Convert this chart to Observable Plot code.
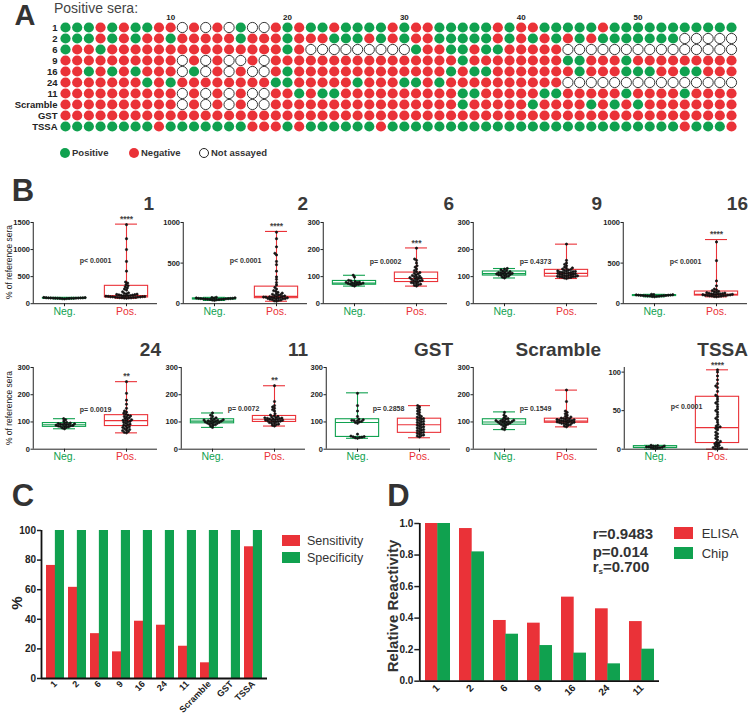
<!DOCTYPE html>
<html><head><meta charset="utf-8">
<script src="https://cdn.jsdelivr.net/npm/d3@7"></script>
<script src="https://cdn.jsdelivr.net/npm/@observablehq/plot@0.6"></script>
<style>
body{margin:0;background:#fff;}
#fig{position:relative;width:748px;height:722px;overflow:hidden;background:#fff;font-family:"Liberation Sans",Arial,Helvetica,sans-serif;color:#333;}
#fig svg{display:block;position:absolute;}
.t{position:absolute;white-space:nowrap;line-height:1;font-family:"Liberation Sans",Arial,Helvetica,sans-serif;}
</style></head><body><div id="fig"></div>
<script>
// ---------------- DATA ----------------
// Panel A
const sampleRows = ["1","2","6","9","16","24","11","Scramble","GST","TSSA"];
const colTicks = [10,20,30,40,50];
// G = positive, R = negative, O = not assayed (sera 1..58)
const statusRows = [
  "GGGRGRGGRR OROROGOORG RGGRGGGGRG RRGGGGGRGR RGGGGGRGGG GGGGGGGG",
  "GGGRGRGRRG RRRRRGRRRG RRRGGGRGRG RRGGGGGRGR GRGRGRGGGG GGGOOOOO",
  "GRRGRRRRRR RRRRRRRRRG ROOOOOOOOO GRRGGRGGRR RRROOOOOOO OOOOOOOO",
  "RRRRRRRRRR OROROORORR RRRRRRRRRR RRRRGRRRRR RRRGGRRRGR RRRRRRRR",
  "RRGRGRGRRR OGOROROORG RRRRRRRRRR RRRGRGGRRR RRRRGRRRGG GRRGGRRR",
  "RRRRRRRGRG RRRRRRRRGG RRRRRGRRRG GRGRRRRRRR RRROOOOOOO OOOOOOOO",
  "RRRRRRRRRR OROROROORR GRGGRRRRRR RRRRGGRRRR RGGRRRRRGR RRRGRRRR",
  "RRRRRRRRRR OROROROORR RRRRRRRRRR RRRRGRRRRR GRRRRGRGRG RRRRRRRR",
  "RRRRRRRRRR RRRRRRRRRR RRRRRRRRRR RRRRRRRRRR RRRRRRRRRR RRRRRRRR",
  "GGGGGGGGRG GGGGGGRRRG RGGGGGGRGG GGGGGGGGGG GGGGGGGGGG GGGRGGGR"
];
const legendA = ["Positive","Negative","Not assayed"];

// Panel B
const bTitles = ["1","2","6","9","16","24","11","GST","Scramble","TSSA"];
const bYMax = [1500,1000,300,300,1000,300,300,300,300,106];
const bYTicks = [[0,500,1000,1500],[0,500,1000],[0,100,200,300],[0,100,200,300],[0,500,1000],
                 [0,100,200,300],[0,100,200,300],[0,100,200,300],[0,100,200,300],[0,50,100]];
const bPText = ["p< 0.0001","p< 0.0001","p= 0.0002","p= 0.4373","p< 0.0001","p= 0.0019","p= 0.0072","p= 0.2858","p= 0.1549","p< 0.0001"];
const bStars = ["****","****","***","","****","**","**","","","****"];
const groupsB = ["Neg.","Pos."];
const negValues = [
 [88,92,95,96,98,99,100,100,101,102,103,104,105,106,107,108,110,112,115],
 [40,45,48,50,52,54,55,56,58,60,60,62,63,64,65,66,68,70,72,75,78],
 [65,68,70,71,72,73,74,75,76,77,78,79,80,82,84,86,98,105],
 [95,98,100,102,104,105,106,108,109,110,111,112,113,114,115,116,118,120,122,125,128,130],
 [85,88,90,92,94,95,96,98,99,100,101,102,104,105,106,108,110,112,115],
 [75,78,80,82,83,84,85,86,87,88,89,90,91,92,93,94,95,96,98,103,108,112],
 [80,85,88,90,92,94,95,96,98,99,100,101,102,103,104,105,106,107,108,110,112,115,120,125,133],
 [40,42,43,44,45,46,48,55,95,98,100,102,104,105,106,108,110,120,140,160,205],
 [72,75,80,85,88,90,92,94,95,96,98,99,100,101,102,103,104,105,106,108,110,112,115,120,125,135],
 [0.5,1,1.5,2,2,2.5,3,3,3.5,4,4,4.5,5]
];
const posValues = [
 [100,103,106,108,110,112,114,116,118,120,122,124,126,128,130,132,135,138,140,143,146,150,154,158,162,166,170,175,180,190,200,220,250,270,290,310,330,350,380,400,600,780,1000,1200,1460],
 [30,35,40,45,50,55,58,60,62,65,68,70,72,75,78,80,82,85,88,90,95,100,105,110,115,120,130,140,150,160,180,200,230,260,300,330,400,480,520,600,620,700,800,880],
 [65,68,70,72,74,76,78,80,82,84,85,86,88,90,92,94,95,96,98,100,102,104,106,110,112,115,118,122,128,135,140,150,160,165,205],
 [93,95,96,97,98,99,100,100,101,102,103,104,105,106,107,108,109,110,111,112,113,114,115,116,117,118,119,120,121,122,124,126,128,130,132,135,140,145,150,160,220],
 [85,88,90,92,94,96,98,100,102,104,106,108,110,112,114,116,118,120,122,125,128,130,135,140,145,150,160,170,180,220,280,530,760],
 [60,62,65,68,70,72,75,78,80,82,85,88,90,92,95,98,100,102,104,106,108,110,112,115,118,120,122,125,128,132,136,140,150,165,180,205,248],
 [85,88,90,92,94,96,98,100,101,102,103,104,105,106,107,108,109,110,111,112,113,114,115,116,118,120,122,125,130,140,145,150,155,160,175,233],
 [45,48,50,52,55,58,60,62,65,68,70,72,75,78,80,82,85,88,90,92,95,98,100,102,105,108,110,112,115,118,120,125,130,135,140,145,150,155,160],
 [82,85,88,90,92,94,95,96,97,98,99,100,101,102,103,104,105,106,107,108,109,110,111,112,114,116,118,120,125,130,135,140,175,217],
 [0,0.5,1,1.5,2,3,4,5,6,7,8,9,10,12,14,16,18,20,22,25,27,28,29,30,32,35,38,40,42,45,48,50,52,55,58,60,62,65,68,70,75,80,82,85,90,95,100,103]
];
// [min, q1, median, q3, max]
const negBox = [[88,96,102,107,115],[40,52,60,66,78],[65,70,76,84,105],[95,104,111,119,130],[85,94,100,106,115],
                [75,82,90,96,112],[80,95,103,110,133],[40,45,98,110,207],[72,90,100,110,137],[0,1.5,2.5,4,5]];
const posBox = [[100,115,150,330,1470],[30,68,90,210,890],[65,80,93,115,206],[93,100,112,125,220],[85,100,115,150,790],
                [60,85,105,125,248],[85,100,110,122,233],[42,60,90,112,160],[82,97,103,112,217],[0,8,28,68,103]];

// Panel C
const cCats = ["1","2","6","9","16","24","11","Scramble","GST","TSSA"];
const sensitivity = [76.4,61.6,30.3,18,38.7,36,21.8,10.6,0,89];
const specificity = [100,100,100,100,100,100,100,100,100,100];
const cSeries = ["Sensitivity","Specificity"];

// Panel D
const dCats = ["1","2","6","9","16","24","11"];
const elisa = [1.0,0.968,0.385,0.368,0.533,0.459,0.378];
const chip = [1.0,0.82,0.298,0.226,0.178,0.11,0.203];
const dSeries = ["ELISA","Chip"];
const dStats = ["r=0.9483","p=0.014","r<sub style='font-size:8px;vertical-align:-2px'>s</sub>=0.700"];

// ---------------- LAYOUT ----------------
const F = '"Liberation Sans", Arial, Helvetica, sans-serif';
const GREEN = "#10a14f";
const RED = "#ea3238";
const fig = document.getElementById("fig");
const plain = d => String(d);

function put(svg, left, top) { svg.style.left = left + "px"; svg.style.top = top + "px"; fig.appendChild(svg); }
function txt(html, x, y, o) {
  const d = document.createElement("div");
  d.className = "t";
  d.innerHTML = html;
  const ax = o.anchor === "middle" ? -50 : o.anchor === "end" ? -100 : 0;
  Object.assign(d.style, {left: x + "px", top: y + "px", fontSize: o.size + "px", fontWeight: o.weight || "normal",
    color: o.color || "#333", lineHeight: o.lh || "1",
    transform: `translate(${ax}%,-50%)` + (o.rotate ? ` rotate(${o.rotate}deg)` : "")});
  fig.appendChild(d);
}
function box(left, top, w, h, css) {
  const d = document.createElement("div");
  Object.assign(d.style, {position: "absolute", left: left + "px", top: top + "px", width: w + "px", height: h + "px", boxSizing: "border-box"}, css);
  fig.appendChild(d);
}

// ---------- Panel A ----------
const cells = [];
statusRows.forEach((s, ri) => {
  const str = s.replace(/ /g, "");
  for (let c = 0; c < str.length; c++) cells.push({row: sampleRows[ri], col: c + 1, st: str[c]});
});
const plotA = Plot.plot({
  width: 748, height: 170, marginLeft: 65, marginRight: 17, marginTop: 24, marginBottom: 41,
  style: {fontFamily: F, background: "transparent", overflow: "visible", color: "#222"},
  x: {domain: [1, 58]},
  y: {type: "point", domain: sampleRows, padding: 0},
  marks: [
    Plot.axisX({anchor: "top", ticks: colTicks, tickSize: 0, tickPadding: 5, fontSize: 8, fontWeight: "bold", label: null}),
    Plot.axisY({anchor: "left", tickSize: 0, tickPadding: 8, fontSize: 9.5, fontWeight: "bold", label: null}),
    Plot.dot(cells, {x: "col", y: "row", r: 5.1,
      fill: d => d.st === "G" ? GREEN : d.st === "R" ? RED : "white",
      stroke: d => d.st === "O" ? "#222" : "none", strokeWidth: 0.9})
  ]
});
put(plotA, 0, 0);

// ---------- Panel B ----------
const rowAxisX = [[31.7,181.7,321.7,471.7,622],[31.7,180,325,471.7,623]];
const rowTop = [221.5, 367.3], rowBottom = [302.7, 449];
const pFrac = [0.53,0.53,0.52,0.52,0.52,0.48,0.5,0.5,0.5,0.52];
const titlePos = [[154,204],[308,204],[454,204],[602,204],[748,204],[161,350],[308,350],[453,350],[601,350],[748,350]];

for (let i = 0; i < 10; i++) {
  const r = i < 5 ? 0 : 1, k = i % 5;
  const W = 125, mL = 34, mR = 4, mT = 20, mB = 24;
  const H = rowBottom[r] - rowTop[r];
  const half = W / 2;
  const boxInset = (half - 0.35 * W) / 2;
  const capInset = (half - 0.18 * W) / 2;
  const ymax = bYMax[i];
  const pts = negValues[i].map(v => ({g: "Neg.", v})).concat(posValues[i].map(v => ({g: "Pos.", v})));
  const boxes = [negBox[i], posBox[i]].map((b, j) => ({g: groupsB[j], min: b[0], q1: b[1], med: b[2], q3: b[3], max: b[4], c: j ? RED : GREEN}));
  const svg = Plot.plot({
    width: mL + W + mR, height: mT + H + mB, marginLeft: mL, marginRight: mR, marginTop: mT, marginBottom: mB,
    style: {fontFamily: F, fontSize: "7.5px", fontWeight: "bold", background: "transparent", overflow: "visible", color: "#222"},
    fx: {domain: groupsB, padding: 0, axis: null, label: null},
    y: {domain: [0, ymax], ticks: bYTicks[i], tickFormat: plain, tickSize: 2.5, tickPadding: 1, label: null},
    marks: [
      Plot.ruleX(boxes, {fx: "g", x: null, y1: "min", y2: "max", stroke: "c", strokeWidth: 1.1}),
      Plot.tickY(boxes, {fx: "g", y: "min", stroke: "c", strokeWidth: 1.1, insetLeft: capInset, insetRight: capInset}),
      Plot.tickY(boxes, {fx: "g", y: "max", stroke: "c", strokeWidth: 1.1, insetLeft: capInset, insetRight: capInset}),
      Plot.barY(boxes, {fx: "g", y1: "q1", y2: "q3", fill: "white", stroke: "c", strokeWidth: 1.1, insetLeft: boxInset, insetRight: boxInset}),
      Plot.tickY(boxes, {fx: "g", y: "med", stroke: "c", strokeWidth: 1.1, insetLeft: boxInset, insetRight: boxInset}),
      Plot.dot(pts, Plot.dodgeX({anchor: "middle", padding: 0}, {fx: "g", y: "v", r: 1.15, fill: "#111", stroke: "#111", strokeWidth: 0.7})),
      Plot.ruleY([0], {stroke: "#222", strokeWidth: 1}),
      Plot.ruleX([{g: "Neg."}], {fx: "g", x: null, dx: -half / 2, stroke: "#222", strokeWidth: 1}),
      Plot.ruleX(boxes, {fx: "g", x: null, y1: 0, y2: 0, insetBottom: -3, stroke: "#222"}),
      Plot.text([{g: "Pos.", t: bStars[i], y: posBox[i][4]}], {fx: "g", y: "y", text: "t", dy: -5, fontSize: 8.5, fontWeight: "bold", fill: "#444"}),
      Plot.text([{g: "Pos.", t: bPText[i], y: ymax * pFrac[i]}], {fx: "g", y: "y", text: "t", frameAnchor: "left", textAnchor: "middle", fontSize: 7, fontWeight: "bold", fill: "#333"}),
      Plot.text(boxes, {fx: "g", text: "g", frameAnchor: "bottom", dy: 11, fill: "c", fontSize: 10.5, fontWeight: "normal"})
    ]
  });
  put(svg, rowAxisX[r][k] - mL, rowTop[r] - mT);
  txt(bTitles[i], titlePos[i][0], titlePos[i][1], {size: 19, weight: "bold", anchor: "end", color: "#3a3a3a", lh: "0.8"});
}
txt("% of reference sera", 8.5, 262, {size: 8.5, anchor: "middle", rotate: -90, color: "#222"});
txt("% of reference sera", 8.5, 408, {size: 8.5, anchor: "middle", rotate: -90, color: "#222"});

// ---------- Panel C ----------
const cData = cCats.map((c, i) => ({cat: c, sens: sensitivity[i], spec: specificity[i]}));
{
  const W = 226, pi = 0.2, po = 0.2;
  const step = W / (cCats.length - pi + 2 * po), halfBw = step * (1 - pi) / 2;
  const svg = Plot.plot({
    width: 41 + W + 5, height: 200, marginLeft: 41, marginRight: 5, marginTop: 8, marginBottom: 44,
    style: {fontFamily: F, fontWeight: "bold", background: "transparent", overflow: "visible", color: "#222"},
    x: {domain: cCats, paddingInner: pi, paddingOuter: po},
    y: {domain: [0, 100]},
    marks: [
      Plot.barY(cData, {x: "cat", y: "sens", fill: RED, insetRight: halfBw}),
      Plot.barY(cData, {x: "cat", y: "spec", fill: GREEN, insetLeft: halfBw}),
      Plot.axisX({tickRotate: -45, tickSize: 0, tickPadding: 4, fontSize: 9, fontWeight: "bold", label: null}),
      Plot.axisY({ticks: [0,20,40,60,80,100], tickSize: 4, tickPadding: 1.5, fontSize: 10, fontWeight: "bold", label: null, strokeWidth: 1.5}),
      Plot.ruleY([0], {stroke: "#111", strokeWidth: 1.8}),
      Plot.ruleX([0], {x: null, dx: -W / 2, stroke: "#111", strokeWidth: 1.8})
    ]
  });
  put(svg, 0, 522);
}
txt("%", 15.5, 603, {size: 15, weight: "bold", anchor: "middle", rotate: -90, color: "#222"});
box(282, 535, 18, 10.5, {background: RED});
box(282, 552, 18, 10.5, {background: GREEN});
txt(cSeries[0], 307, 540.5, {size: 12.5, color: "#333"});
txt(cSeries[1], 307, 557.5, {size: 12.5, color: "#333"});

// ---------- Panel D ----------
const dData = dCats.map((c, i) => ({cat: c, e: elisa[i], ch: chip[i]}));
{
  const W = 239.7, pi = 0.277, po = 0.163;
  const step = W / (dCats.length - pi + 2 * po), halfBw = step * (1 - pi) / 2;
  const svg = Plot.plot({
    width: 39.3 + W + 5, height: 205.7, marginLeft: 39.3, marginRight: 5, marginTop: 8, marginBottom: 40,
    style: {fontFamily: F, fontWeight: "bold", background: "transparent", overflow: "visible", color: "#222"},
    x: {domain: dCats, paddingInner: pi, paddingOuter: po},
    y: {domain: [0, 1]},
    marks: [
      Plot.barY(dData, {x: "cat", y: "e", fill: RED, insetRight: halfBw}),
      Plot.barY(dData, {x: "cat", y: "ch", fill: GREEN, insetLeft: halfBw}),
      Plot.axisX({tickRotate: -45, tickSize: 0, tickPadding: 5, fontSize: 10, fontWeight: "bold", label: null}),
      Plot.axisY({ticks: [0,0.2,0.4,0.6,0.8,1.0], tickFormat: d3.format(".1f"), tickSize: 5, tickPadding: 1.5, fontSize: 10, fontWeight: "bold", label: null, strokeWidth: 1.5}),
      Plot.ruleY([0], {stroke: "#111", strokeWidth: 1.8}),
      Plot.ruleX([0], {x: null, dx: -W / 2, stroke: "#111", strokeWidth: 1.8})
    ]
  });
  put(svg, 380, 515.3);
}
txt("Relative Reactivity", 391.5, 606, {size: 15, weight: "bold", anchor: "middle", rotate: -90, color: "#333"});
txt(dStats[0], 592.7, 533.3, {size: 15, weight: "bold", color: "#333"});
txt(dStats[1], 592.7, 550.7, {size: 15, weight: "bold", color: "#333"});
txt(dStats[2], 592.7, 567.3, {size: 15, weight: "bold", color: "#333"});
box(674, 527.3, 19.3, 12, {background: RED});
box(674, 546.7, 19.3, 12, {background: GREEN});
txt(dSeries[0], 701.7, 533.3, {size: 13, color: "#333"});
txt(dSeries[1], 701.7, 552.7, {size: 13, color: "#333"});

// ---------- Panel letters, A header & legend ----------
txt("A", 25, 16, {size: 29, weight: "bold", anchor: "middle", color: "#333", lh: "0.75"});
txt("B", 23, 191, {size: 31, weight: "bold", anchor: "middle", color: "#333", lh: "0.75"});
txt("C", 23, 496, {size: 31, weight: "bold", anchor: "middle", color: "#333", lh: "0.75"});
txt("D", 398.5, 496, {size: 31, weight: "bold", anchor: "middle", color: "#333", lh: "0.75"});
txt("Positive sera:", 54, 7.5, {size: 14, color: "#444", lh: "0.9"});
box(60, 148.3, 10, 10, {background: GREEN, borderRadius: "50%"});
box(129, 148.3, 10, 10, {background: RED, borderRadius: "50%"});
box(199, 148.3, 10, 10, {background: "#fff", border: "1px solid #222", borderRadius: "50%"});
txt(legendA[0], 72, 153.3, {size: 9.5, weight: "bold", color: "#333"});
txt(legendA[1], 141, 153.3, {size: 9.5, weight: "bold", color: "#333"});
txt(legendA[2], 211, 153.3, {size: 9.5, weight: "bold", color: "#333"});
</script></body></html>
